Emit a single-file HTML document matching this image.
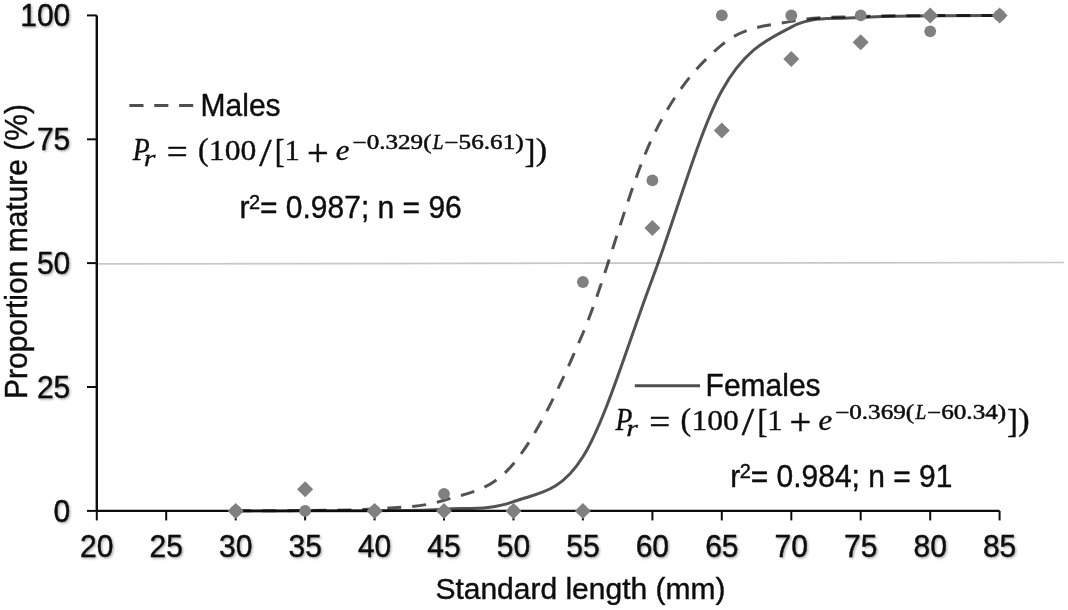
<!DOCTYPE html>
<html><head><meta charset="utf-8"><style>
html,body{margin:0;padding:0;background:#fff;}
body{width:1068px;height:610px;overflow:hidden;font-family:"Liberation Sans",sans-serif;}
svg{display:block}
text{font-family:"Liberation Sans",sans-serif;fill:#0c0c0c;stroke:#0c0c0c;stroke-width:0.4px;stroke-linejoin:round;}
.ax{font-size:30px;}
.eq{font-family:"Liberation Serif",serif;stroke-width:1.2px;}
.eqs{stroke-width:2.4px;}
.it{font-style:italic;}
.sup{font-size:20px;}
.sh{filter:url(#sh);}
</style></head><body>
<svg width="1068" height="610" viewBox="0 0 1068 610">
<defs><filter id="soft" filterUnits="userSpaceOnUse" x="0" y="0" width="1068" height="610"><feGaussianBlur stdDeviation="0.6"/></filter><filter id="sh" x="-20%" y="-20%" width="150%" height="160%"><feDropShadow dx="1.2" dy="1.2" stdDeviation="0.9" flood-color="#000" flood-opacity="0.35"/></filter></defs>
<rect width="1068" height="610" fill="#fff"/>
<g filter="url(#soft)">
<line x1="96.8" y1="263.9" x2="1064" y2="262.5" stroke="#c8c8c8" stroke-width="1.7"/>
<path d="M235.69,510.89 C247.27,510.89 281.99,510.90 305.14,510.86 C328.29,510.81 351.44,510.91 374.58,510.63 C397.73,510.35 420.88,510.67 444.03,509.18 C467.18,507.69 490.33,510.45 513.48,501.71 C536.63,492.96 559.77,493.89 582.92,456.72 C606.07,419.55 629.22,339.68 652.37,278.67 C675.52,217.66 698.67,132.62 721.82,90.68 C744.96,48.75 768.11,39.24 791.26,27.06 C814.41,14.88 837.56,19.49 860.71,17.61 C883.86,15.72 907.01,16.11 930.15,15.75 C953.30,15.39 988.03,15.50 999.60,15.46" fill="none" stroke="#000" stroke-opacity="0.68" stroke-width="3"/>
<path d="M235.69,510.82 C247.27,510.77 281.99,510.83 305.14,510.50 C328.29,510.16 351.44,510.52 374.58,508.81 C397.73,507.11 420.88,507.77 444.03,500.26 C467.18,492.76 490.33,491.65 513.48,463.80 C536.63,435.96 559.77,387.56 582.92,333.22 C606.07,278.87 629.22,185.79 652.37,137.73 C675.52,89.67 698.67,64.28 721.82,44.89 C744.96,25.49 768.11,26.10 791.26,21.38 C814.41,16.66 837.56,17.52 860.71,16.57 C883.86,15.61 907.01,15.81 930.15,15.63 C953.30,15.44 988.03,15.47 999.60,15.44" fill="none" stroke="#000" stroke-opacity="0.68" stroke-width="3" stroke-dasharray="14.0,11.0" stroke-dashoffset="23.33"/>
<line x1="96.8" y1="15.4" x2="96.8" y2="510.9" stroke="#0c0c0c" stroke-width="2.4"/>
<line x1="96.8" y1="510.9" x2="999.6" y2="510.9" stroke="#0c0c0c" stroke-width="2.4"/>
<line x1="96.8" y1="510.9" x2="96.8" y2="520.4" stroke="#0c0c0c" stroke-width="2"/>
<line x1="166.2" y1="510.9" x2="166.2" y2="520.4" stroke="#0c0c0c" stroke-width="2"/>
<line x1="235.7" y1="510.9" x2="235.7" y2="520.4" stroke="#0c0c0c" stroke-width="2"/>
<line x1="305.1" y1="510.9" x2="305.1" y2="520.4" stroke="#0c0c0c" stroke-width="2"/>
<line x1="374.6" y1="510.9" x2="374.6" y2="520.4" stroke="#0c0c0c" stroke-width="2"/>
<line x1="444.0" y1="510.9" x2="444.0" y2="520.4" stroke="#0c0c0c" stroke-width="2"/>
<line x1="513.5" y1="510.9" x2="513.5" y2="520.4" stroke="#0c0c0c" stroke-width="2"/>
<line x1="582.9" y1="510.9" x2="582.9" y2="520.4" stroke="#0c0c0c" stroke-width="2"/>
<line x1="652.4" y1="510.9" x2="652.4" y2="520.4" stroke="#0c0c0c" stroke-width="2"/>
<line x1="721.8" y1="510.9" x2="721.8" y2="520.4" stroke="#0c0c0c" stroke-width="2"/>
<line x1="791.3" y1="510.9" x2="791.3" y2="520.4" stroke="#0c0c0c" stroke-width="2"/>
<line x1="860.7" y1="510.9" x2="860.7" y2="520.4" stroke="#0c0c0c" stroke-width="2"/>
<line x1="930.2" y1="510.9" x2="930.2" y2="520.4" stroke="#0c0c0c" stroke-width="2"/>
<line x1="999.6" y1="510.9" x2="999.6" y2="520.4" stroke="#0c0c0c" stroke-width="2"/>
<line x1="87.0" y1="510.9" x2="96.8" y2="510.9" stroke="#0c0c0c" stroke-width="2"/>
<line x1="87.0" y1="387.0" x2="96.8" y2="387.0" stroke="#0c0c0c" stroke-width="2"/>
<line x1="87.0" y1="263.1" x2="96.8" y2="263.1" stroke="#0c0c0c" stroke-width="2"/>
<line x1="87.0" y1="139.3" x2="96.8" y2="139.3" stroke="#0c0c0c" stroke-width="2"/>
<line x1="87.0" y1="15.4" x2="96.8" y2="15.4" stroke="#0c0c0c" stroke-width="2"/>
<circle cx="235.7" cy="510.9" r="5.9" fill="#808080"/>
<circle cx="305.1" cy="510.9" r="5.9" fill="#808080"/>
<circle cx="374.6" cy="510.9" r="5.9" fill="#808080"/>
<circle cx="444.0" cy="493.8" r="5.9" fill="#808080"/>
<circle cx="513.5" cy="510.9" r="5.9" fill="#808080"/>
<circle cx="582.9" cy="282.0" r="5.9" fill="#808080"/>
<circle cx="652.4" cy="180.4" r="5.9" fill="#808080"/>
<circle cx="721.8" cy="15.4" r="5.9" fill="#808080"/>
<circle cx="791.3" cy="15.4" r="5.9" fill="#808080"/>
<circle cx="860.7" cy="15.4" r="5.9" fill="#808080"/>
<circle cx="930.2" cy="31.3" r="5.9" fill="#808080"/>
<circle cx="999.6" cy="15.4" r="5.9" fill="#808080"/>
<path d="M235.7,502.9 L243.7,510.9 L235.7,518.9 L227.7,510.9 Z" fill="#808080"/>
<path d="M305.1,481.3 L313.1,489.3 L305.1,497.3 L297.1,489.3 Z" fill="#808080"/>
<path d="M374.6,502.9 L382.6,510.9 L374.6,518.9 L366.6,510.9 Z" fill="#808080"/>
<path d="M444.0,502.9 L452.0,510.9 L444.0,518.9 L436.0,510.9 Z" fill="#808080"/>
<path d="M513.5,502.9 L521.5,510.9 L513.5,518.9 L505.5,510.9 Z" fill="#808080"/>
<path d="M582.9,502.9 L590.9,510.9 L582.9,518.9 L574.9,510.9 Z" fill="#808080"/>
<path d="M652.4,220.0 L660.4,228.0 L652.4,236.0 L644.4,228.0 Z" fill="#808080"/>
<path d="M721.8,122.4 L729.8,130.4 L721.8,138.4 L713.8,130.4 Z" fill="#808080"/>
<path d="M791.3,51.0 L799.3,59.0 L791.3,67.0 L783.3,59.0 Z" fill="#808080"/>
<path d="M860.7,34.2 L868.7,42.2 L860.7,50.2 L852.7,42.2 Z" fill="#808080"/>
<path d="M930.2,7.4 L938.2,15.4 L930.2,23.4 L922.2,15.4 Z" fill="#808080"/>
<path d="M999.6,7.4 L1007.6,15.4 L999.6,23.4 L991.6,15.4 Z" fill="#808080"/>
<text transform="translate(96.80,556.60) scale(1,1.045)" text-anchor="middle" class="ax sh">20</text>
<text transform="translate(166.25,556.60) scale(1,1.045)" text-anchor="middle" class="ax sh">25</text>
<text transform="translate(235.69,556.60) scale(1,1.045)" text-anchor="middle" class="ax sh">30</text>
<text transform="translate(305.14,556.60) scale(1,1.045)" text-anchor="middle" class="ax sh">35</text>
<text transform="translate(374.58,556.60) scale(1,1.045)" text-anchor="middle" class="ax sh">40</text>
<text transform="translate(444.03,556.60) scale(1,1.045)" text-anchor="middle" class="ax sh">45</text>
<text transform="translate(513.48,556.60) scale(1,1.045)" text-anchor="middle" class="ax sh">50</text>
<text transform="translate(582.92,556.60) scale(1,1.045)" text-anchor="middle" class="ax sh">55</text>
<text transform="translate(652.37,556.60) scale(1,1.045)" text-anchor="middle" class="ax sh">60</text>
<text transform="translate(721.82,556.60) scale(1,1.045)" text-anchor="middle" class="ax sh">65</text>
<text transform="translate(791.26,556.60) scale(1,1.045)" text-anchor="middle" class="ax sh">70</text>
<text transform="translate(860.71,556.60) scale(1,1.045)" text-anchor="middle" class="ax sh">75</text>
<text transform="translate(930.15,556.60) scale(1,1.045)" text-anchor="middle" class="ax sh">80</text>
<text transform="translate(999.60,556.60) scale(1,1.045)" text-anchor="middle" class="ax sh">85</text>
<text transform="translate(70.30,521.50) scale(1,1.045)" text-anchor="end" class="ax sh">0</text>
<text transform="translate(70.30,397.62) scale(1,1.045)" text-anchor="end" class="ax sh">25</text>
<text transform="translate(70.30,273.75) scale(1,1.045)" text-anchor="end" class="ax sh">50</text>
<text transform="translate(70.30,149.87) scale(1,1.045)" text-anchor="end" class="ax sh">75</text>
<text transform="translate(70.30,26.00) scale(1,1.045)" text-anchor="end" class="ax sh">100</text>
<text transform="translate(580.40,598.70) scale(1,0.96)" text-anchor="middle" class="ax">Standard length (mm)</text>
<text transform="translate(26.5,251.5) rotate(-90) scale(1,1.025)" text-anchor="middle" class="ax">Proportion mature (%)</text>
<line x1="129.4" y1="105.5" x2="193.3" y2="105.5" stroke="#505050" stroke-width="3" stroke-dasharray="14.1,10.75"/>
<text transform="translate(200.60,115.60) scale(1,1.045)" text-anchor="start" class="ax">Males</text>
<text transform="translate(132.80,160.10) scale(0.2763,0.3100)" font-size="100" class="eq it">P</text>
<text transform="translate(143.70,166.00) scale(0.3000,0.2250)" font-size="100" class="eq it">r</text>
<text transform="translate(166.64,164.20) scale(0.3723,0.3650)" font-size="100" class="eq">=</text>
<text transform="translate(197.92,160.30) scale(0.3192,0.3060)" font-size="100" class="eq">(</text>
<text transform="translate(208.86,160.00) scale(0.3161,0.2950)" font-size="100" class="eq">100</text>
<text transform="translate(259.20,165.50) scale(0.4464,0.4000)" font-size="100" class="eq">/</text>
<text transform="translate(274.80,162.30) scale(0.3000,0.3350)" font-size="100" class="eq">[</text>
<text transform="translate(284.55,160.00) scale(0.3057,0.2950)" font-size="100" class="eq">1</text>
<text transform="translate(306.97,165.60) scale(0.3851,0.3850)" font-size="100" class="eq">+</text>
<text transform="translate(335.78,160.30) scale(0.3077,0.2900)" font-size="100" class="eq it">e</text>
<text transform="translate(352.54,149.00) scale(0.2511,0.2000)" font-size="100" class="eq eqs">−0.329(</text>
<text transform="translate(432.79,149.00) scale(0.1942,0.2000)" font-size="100" class="eq eqs it">L</text>
<text transform="translate(444.34,149.00) scale(0.2521,0.2000)" font-size="100" class="eq eqs">−56.61)</text>
<text transform="translate(524.49,162.30) scale(0.3273,0.3350)" font-size="100" class="eq">]</text>
<text transform="translate(535.67,160.30) scale(0.3423,0.3060)" font-size="100" class="eq">)</text>
<text transform="translate(239.60,218.30) scale(1,1.045)" text-anchor="start" class="ax">r</text><text transform="translate(249.10,209.00) scale(1,1.045)" text-anchor="start" class="sup">2</text><text transform="translate(260.00,218.30) scale(1,1.045)" text-anchor="start" class="ax">= 0.987; n = 96</text>
<line x1="634.8" y1="385.8" x2="700" y2="385.8" stroke="#505050" stroke-width="3"/>
<text transform="translate(705.60,396.10) scale(1,1.045)" text-anchor="start" class="ax">Females</text>
<text transform="translate(615.40,429.80) scale(0.2763,0.3100)" font-size="100" class="eq it">P</text>
<text transform="translate(626.30,435.70) scale(0.3000,0.2250)" font-size="100" class="eq it">r</text>
<text transform="translate(649.24,433.90) scale(0.3723,0.3650)" font-size="100" class="eq">=</text>
<text transform="translate(680.52,430.00) scale(0.3192,0.3060)" font-size="100" class="eq">(</text>
<text transform="translate(691.46,429.70) scale(0.3161,0.2950)" font-size="100" class="eq">100</text>
<text transform="translate(741.80,435.20) scale(0.4464,0.4000)" font-size="100" class="eq">/</text>
<text transform="translate(757.40,432.00) scale(0.3000,0.3350)" font-size="100" class="eq">[</text>
<text transform="translate(767.15,429.70) scale(0.3057,0.2950)" font-size="100" class="eq">1</text>
<text transform="translate(789.57,435.30) scale(0.3851,0.3850)" font-size="100" class="eq">+</text>
<text transform="translate(818.38,430.00) scale(0.3077,0.2900)" font-size="100" class="eq it">e</text>
<text transform="translate(835.14,418.70) scale(0.2511,0.2000)" font-size="100" class="eq eqs">−0.369(</text>
<text transform="translate(915.39,418.70) scale(0.1942,0.2000)" font-size="100" class="eq eqs it">L</text>
<text transform="translate(926.94,418.70) scale(0.2521,0.2000)" font-size="100" class="eq eqs">−60.34)</text>
<text transform="translate(1007.09,432.00) scale(0.3273,0.3350)" font-size="100" class="eq">]</text>
<text transform="translate(1018.27,430.00) scale(0.3423,0.3060)" font-size="100" class="eq">)</text>
<text transform="translate(730.30,487.10) scale(1,1.045)" text-anchor="start" class="ax">r</text><text transform="translate(739.80,477.80) scale(1,1.045)" text-anchor="start" class="sup">2</text><text transform="translate(750.70,487.10) scale(1,1.045)" text-anchor="start" class="ax">= 0.984; n = 91</text>
</g>
</svg>
</body></html>
